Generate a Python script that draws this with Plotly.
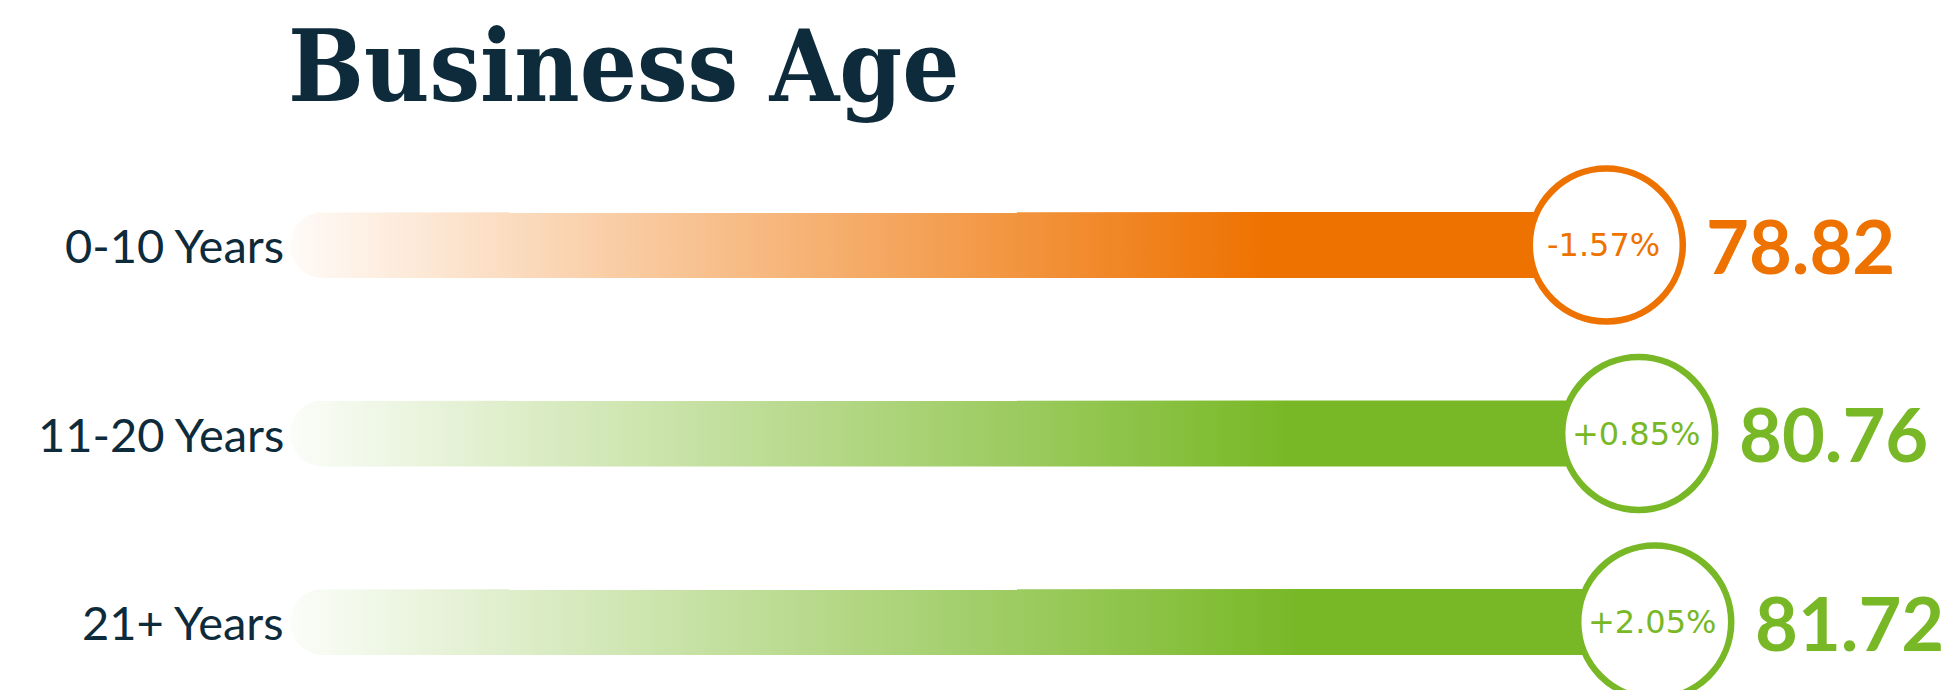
import numpy as np
import plotly.graph_objects as go

# ---- data ----
title_text = "Business Age"
categories = ["0-10 Years", "11-20 Years", "21+ Years"]
scores = [78.82, 80.76, 81.72]
changes = ["-1.57%", "+0.85%", "+2.05%"]
colors = ["rgb(238,114,0)", "rgb(120,184,38)", "rgb(120,184,38)"]
rgb = [(238, 114, 0), (120, 184, 38), (120, 184, 38)]

# ---- layout geometry (screen pixels; page body has an 8px margin) ----
OFF = 8
W, H = 1953 - OFF, 690 - OFF
X0_PX = 290 - OFF          # pixel of value 0
PX_PER_UNIT = 16.7
ROW0_PX = 245 - OFF
ROW_STEP = 188.5
BAR_H_PX = 66
DARK = "#0e2b3c"

x_range = [-X0_PX / PX_PER_UNIT, (W - X0_PX) / PX_PER_UNIT]
y_range = [(H - ROW0_PX) / ROW_STEP, -ROW0_PX / ROW_STEP]

fig = go.Figure()

hy = BAR_H_PX / 2 / ROW_STEP
rx = BAR_H_PX / 2 / PX_PER_UNIT
theta = np.linspace(0, np.pi, 40)

for i, (v, (r, g, b)) in enumerate(zip(scores, rgb)):
    xs = [v] + list(rx - rx * np.sin(theta)) + [v, v]
    ys = [i - hy] + list(i - hy * np.cos(theta)) + [i + hy, i - hy]
    fig.add_trace(go.Scatter(
        x=xs, y=ys, mode="lines", fill="toself",
        line=dict(width=0, color=f"rgba({r},{g},{b},0)"),
        fillgradient=dict(
            type="horizontal", start=0, stop=v,
            colorscale=[[0, f"rgba({r},{g},{b},0.03)"],
                        [0.74, f"rgba({r},{g},{b},1)"],
                        [1, f"rgba({r},{g},{b},1)"]],
        ),
        hoverinfo="skip", showlegend=False,
    ))

shapes = []
annotations = []
for i, (cat, v, ch, c) in enumerate(zip(categories, scores, changes, colors)):
    shapes.append(dict(
        type="circle", xref="x", yref="y", xsizemode="pixel", ysizemode="pixel",
        xanchor=v, yanchor=i, x0=-76.5, x1=76.5, y0=-76.5, y1=76.5,
        line=dict(color=c, width=6.5), fillcolor="white", layer="above",
    ))
    annotations.append(dict(
        x=v, y=i, xref="x", yref="y", text=ch, showarrow=False,
        xanchor="center", yanchor="middle", xshift=-3,
        font=dict(family="DejaVu Sans", size=32, color=c),
    ))
    annotations.append(dict(
        x=v, y=i, xref="x", yref="y", text=f"<b>{v:.2f}</b>", showarrow=False,
        xanchor="left", yanchor="middle", xshift=98,
        font=dict(family="Lato", size=74, color=c),
    ))
    annotations.append(dict(
        x=0, y=i, xref="x", yref="y", text=cat, showarrow=False,
        xanchor="right", yanchor="middle", xshift=-4,
        font=dict(family="Lato", size=47, color=DARK),
    ))

annotations.append(dict(
    x=0, y=(66 - OFF - ROW0_PX) / ROW_STEP, xref="x", yref="y",
    text=f"<b>{title_text}</b>",
    showarrow=False, xanchor="left", yanchor="middle", xshift=-4,
    font=dict(family="DejaVu Serif Condensed, DejaVu Serif", size=100, color=DARK),
))

fig.update_layout(
    width=W, height=H,
    margin=dict(l=0, r=0, t=0, b=0),
    paper_bgcolor="white", plot_bgcolor="white",
    xaxis=dict(range=x_range, visible=False, fixedrange=True),
    yaxis=dict(range=y_range, visible=False, fixedrange=True),
    shapes=shapes, annotations=annotations,
    showlegend=False, hovermode=False,
)

fig.write_html("out.html")
